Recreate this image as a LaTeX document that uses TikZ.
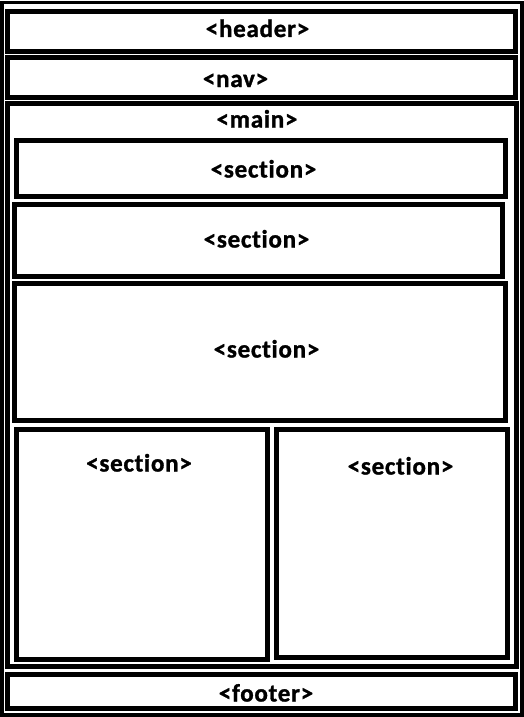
\documentclass[tikz,border=0pt]{standalone}
\usepackage{fontspec}
\newfontfamily\tagfont[LetterSpace=3, Ligatures=NoCommon, BoldFeatures={FakeBold=1.2}]{Carlito}
\begin{document}
\begin{tikzpicture}[x=1pt,y=-1pt,
    box/.style={line width=5pt},
    frame/.style={line width=3.5pt},
    tag/.style={font=\tagfont\bfseries\fontsize{25}{29}\selectfont, anchor=base, inner sep=0pt}]
  \useasboundingbox (0,0) rectangle (524,717);
  \draw[frame] (1.75,2.5) rectangle (522,715);
  \draw[box] (7.5,11.5) rectangle (515.5,51.5);
  \draw[box] (7.5,57.5) rectangle (515.5,97);
  \draw[box] (7.5,103.5) rectangle (516.5,666);
  \draw[box] (16.5,140.5) rectangle (505.5,196.5);
  \draw[box] (14.5,204.5) rectangle (502.5,276.5);
  \draw[box] (14.5,283.5) rectangle (505.5,420.5);
  \draw[box] (16.5,429.5) rectangle (267,659);
  \draw[box] (276,429.5) rectangle (507.5,657.5);
  \draw[box] (7.5,674.5) rectangle (515.5,708.5);
  \node[tag] (header) at (257.5,37) {<header>};
  \node[tag] (nav) at (235.5,87) {<nav>};
  \node[tag] (main) at (257,127.5) {<main>};
  \node[tag] (sec1) at (263.5,177.5) {<section>};
  \node[tag] (sec2) at (256.5,247.5) {<section>};
  \node[tag] (sec3) at (266.5,357.5) {<section>};
  \node[tag] (sec4) at (139,471.5) {<section>};
  \node[tag] (sec5) at (400.5,474.5) {<section>};
  \node[tag] (footer) at (266,701.5) {<footer>};
\end{tikzpicture}
\end{document}
